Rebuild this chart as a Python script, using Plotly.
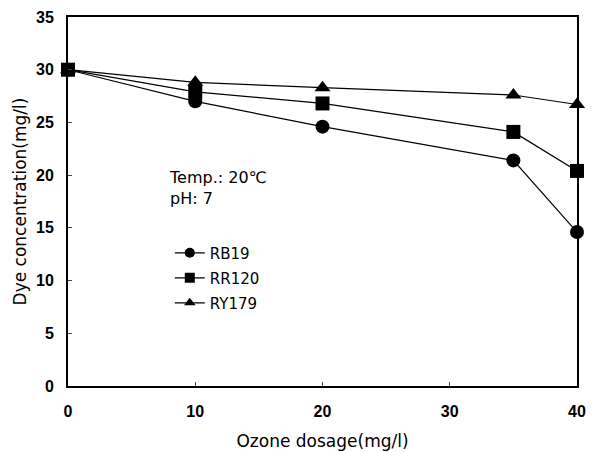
import plotly.graph_objects as go

ozone = [0, 10, 20, 35, 40]
rb19 = [30.0, 27.0, 24.6, 21.4, 14.6]
rr120 = [30.0, 27.9, 26.8, 24.1, 20.4]
ry179 = [30.0, 28.8, 28.3, 27.6, 26.7]

fig = go.Figure()
series = [("RB19", rb19, "circle", 14), ("RR120", rr120, "square", 14), ("RY179", ry179, "triangle-up", 14)]
for name, vals, sym, sz in series:
    fig.add_trace(go.Scatter(x=ozone, y=vals, name=name, mode="lines+markers",
                             line=dict(color="black", width=1.2),
                             marker=dict(symbol=sym, size=sz, color="black"),
                             cliponaxis=False, showlegend=False))
# legend-only entries with smaller symbols, as in the reference key
for name, vals, sym, sz in series:
    fig.add_trace(go.Scatter(x=[None], y=[None], name=name, mode="lines+markers",
                             legendgroup=name,
                             line=dict(color="black", width=1.2),
                             marker=dict(symbol=sym, size=10, color="black")))

fig.add_annotation(x=0.195, y=0.595, xref="paper", yref="paper", xanchor="left", yanchor="top",
                   text="Temp.: 20℃<br>pH: 7", showarrow=False, align="left",
                   font=dict(family="DejaVu Sans", size=16, color="black"))

fig.update_layout(
    width=587, height=444,
    margin=dict(l=60, r=18, t=9, b=66),
    plot_bgcolor="white", paper_bgcolor="white",
    font=dict(family="DejaVu Sans", color="black"),
    legend=dict(x=0.2, y=0.405, xanchor="left", yanchor="top", bgcolor="rgba(0,0,0,0)",
                font=dict(size=15, family="DejaVu Sans"), tracegroupgap=2.5, itemwidth=30),
    xaxis=dict(range=[0, 40], tickvals=[0, 10, 20, 30, 40], ticks="inside", ticklen=4,
               showline=True, linecolor="black", linewidth=2, mirror=True, showgrid=False,
               zeroline=False, tickfont=dict(family="Arial", size=16, color="black", weight="bold"),
               automargin=False, ticklabelstandoff=10,
               title=dict(text="Ozone dosage(mg/l)", font=dict(size=17), standoff=16)),
    yaxis=dict(range=[0, 35], tickvals=list(range(0, 36, 5)), ticks="inside", ticklen=4,
               showline=True, linecolor="black", linewidth=2, mirror=True, showgrid=False,
               zeroline=False, tickfont=dict(family="Arial", size=16, color="black", weight="bold"),
               automargin=False, ticklabelstandoff=9,
               title=dict(text="Dye concentration(mg/l)", font=dict(size=17), standoff=5)),
)
fig.write_html("out.html")
